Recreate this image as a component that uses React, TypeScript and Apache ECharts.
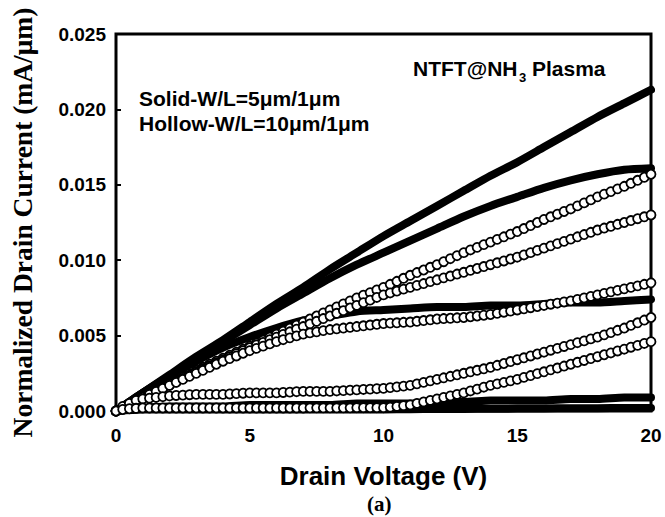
import React, { useEffect, useRef } from 'react';
import * as echarts from 'echarts';

// Drain voltage sweep (V)
const voltageFine = [
  0, 0.25, 0.5, 0.75, 1, 1.25, 1.5, 1.75, 2, 2.25, 2.5, 2.75, 3, 3.25, 3.5, 3.75,
  4, 4.25, 4.5, 4.75, 5, 5.25, 5.5, 5.75, 6, 6.25, 6.5, 6.75, 7, 7.25, 7.5, 7.75,
  8, 8.25, 8.5, 8.75, 9, 9.25, 9.5, 9.75, 10, 10.25, 10.5, 10.75, 11, 11.25, 11.5, 11.75,
  12, 12.25, 12.5, 12.75, 13, 13.25, 13.5, 13.75, 14, 14.25, 14.5, 14.75, 15, 15.25, 15.5, 15.75,
  16, 16.25, 16.5, 16.75, 17, 17.25, 17.5, 17.75, 18, 18.25, 18.5, 18.75, 19, 19.25, 19.5, 19.75, 20,
];
const voltageCoarse = [0, 1, 2, 3, 4, 5, 6, 7, 8, 9, 10, 11, 12, 13, 14, 15, 16, 17, 18, 19, 20];

// Solid: W/L = 5um/1um (mA/um)
const solid1 = [0, 0.0012, 0.0024, 0.0036, 0.0047, 0.0059, 0.0071, 0.0082, 0.0094, 0.0105, 0.0116, 0.0126, 0.0136, 0.0146, 0.0156, 0.0165, 0.0175, 0.0185, 0.0195, 0.0204, 0.0213];
const solid2 = [0, 0.0012, 0.0023, 0.0035, 0.0046, 0.0057, 0.0068, 0.0078, 0.0088, 0.0097, 0.0105, 0.0113, 0.0121, 0.0129, 0.0136, 0.0142, 0.0148, 0.0153, 0.0157, 0.016, 0.0161];
const solid3 = [0, 0.0012, 0.0023, 0.0033, 0.0042, 0.0049, 0.0055, 0.006, 0.0063, 0.0066, 0.0067, 0.0068, 0.0069, 0.0069, 0.007, 0.007, 0.0071, 0.0072, 0.0072, 0.0073, 0.0074];
const solid4 = [0, 0.0002, 0.0003, 0.0003, 0.0003, 0.0004, 0.0004, 0.0004, 0.0004, 0.0005, 0.0005, 0.0005, 0.0006, 0.0006, 0.0007, 0.0007, 0.0007, 0.0008, 0.0008, 0.0009, 0.0009];
const solid5 = [0, 0.0001, 0.0001, 0.0001, 0.0001, 0.0001, 0.0001, 0.0001, 0.0001, 0.0001, 0.0001, 0.00012, 0.00013, 0.00014, 0.00015, 0.00016, 0.00017, 0.00018, 0.00019, 0.0002, 0.0002];

// Hollow: W/L = 10um/1um (mA/um)
const hollow1 = [
  0, 0.00022, 0.00045, 0.00068, 0.0009, 0.00112, 0.00135, 0.00158,
  0.0018, 0.00202, 0.00225, 0.00248, 0.0027, 0.0029, 0.0031, 0.0033,
  0.0035, 0.0037, 0.0039, 0.0041, 0.0043, 0.0045, 0.0047, 0.0049,
  0.0051, 0.0053, 0.0055, 0.0057, 0.0059, 0.0061, 0.0063, 0.0065,
  0.0067, 0.0069, 0.0071, 0.0073, 0.0075, 0.00768, 0.00785, 0.00803,
  0.0082, 0.0084, 0.0086, 0.0088, 0.009, 0.00918, 0.00935, 0.00953,
  0.0097, 0.0099, 0.0101, 0.0103, 0.0105, 0.01068, 0.01085, 0.01103,
  0.0112, 0.01138, 0.01155, 0.01173, 0.0119, 0.0121, 0.0123, 0.0125,
  0.0127, 0.01288, 0.01305, 0.01323, 0.0134, 0.0136, 0.0138, 0.014,
  0.0142, 0.01438, 0.01455, 0.01473, 0.0149, 0.0151, 0.0153, 0.0155, 0.0157,
];
const hollow2 = [
  0, 0.00022, 0.00045, 0.00068, 0.0009, 0.0011, 0.0013, 0.0015,
  0.0017, 0.00192, 0.00215, 0.00238, 0.0026, 0.0028, 0.003, 0.0032,
  0.0034, 0.0036, 0.0038, 0.004, 0.0042, 0.00438, 0.00455, 0.00473,
  0.0049, 0.00508, 0.00525, 0.00543, 0.0056, 0.00578, 0.00595, 0.00613,
  0.0063, 0.00648, 0.00665, 0.00683, 0.007, 0.00718, 0.00735, 0.00753,
  0.0077, 0.00783, 0.00795, 0.00808, 0.0082, 0.00833, 0.00845, 0.00858,
  0.0087, 0.00883, 0.00895, 0.00908, 0.0092, 0.00933, 0.00945, 0.00958,
  0.0097, 0.00983, 0.00995, 0.01008, 0.0102, 0.01035, 0.0105, 0.01065,
  0.0108, 0.01095, 0.0111, 0.01125, 0.0114, 0.01155, 0.0117, 0.01185,
  0.012, 0.01213, 0.01225, 0.01238, 0.0125, 0.01263, 0.01275, 0.01288, 0.013,
];
const hollow3 = [
  0, 0.00022, 0.00045, 0.00068, 0.0009, 0.0011, 0.0013, 0.0015,
  0.0017, 0.0019, 0.0021, 0.0023, 0.0025, 0.0027, 0.0029, 0.0031,
  0.0033, 0.00348, 0.00365, 0.00383, 0.004, 0.00415, 0.0043, 0.00445,
  0.0046, 0.00473, 0.00485, 0.00498, 0.0051, 0.00518, 0.00525, 0.00533,
  0.0054, 0.00545, 0.0055, 0.00555, 0.0056, 0.00565, 0.0057, 0.00575,
  0.0058, 0.00583, 0.00585, 0.00588, 0.0059, 0.00595, 0.006, 0.00605,
  0.0061, 0.00613, 0.00615, 0.00618, 0.0062, 0.00625, 0.0063, 0.00635,
  0.0064, 0.00648, 0.00655, 0.00663, 0.0067, 0.00678, 0.00685, 0.00693,
  0.007, 0.00708, 0.00715, 0.00723, 0.0073, 0.0074, 0.0075, 0.0076,
  0.0077, 0.0078, 0.0079, 0.008, 0.0081, 0.0082, 0.0083, 0.0084, 0.0085,
];
const hollow4 = [
  0, 0.0003, 0.0005, 0.0007, 0.0008, 0.00085, 0.0009, 0.00095,
  0.001, 0.00103, 0.00105, 0.00108, 0.0011, 0.0011, 0.0011, 0.0011,
  0.0011, 0.00113, 0.00115, 0.00118, 0.0012, 0.0012, 0.0012, 0.0012,
  0.0012, 0.00123, 0.00125, 0.00128, 0.0013, 0.0013, 0.0013, 0.0013,
  0.0013, 0.00133, 0.00135, 0.00138, 0.0014, 0.00143, 0.00145, 0.00148,
  0.0015, 0.00155, 0.0016, 0.00165, 0.0017, 0.0018, 0.0019, 0.002,
  0.0021, 0.0022, 0.0023, 0.0024, 0.0025, 0.0026, 0.0027, 0.0028,
  0.0029, 0.00303, 0.00315, 0.00328, 0.0034, 0.00353, 0.00365, 0.00378,
  0.0039, 0.00403, 0.00415, 0.00428, 0.0044, 0.00453, 0.00465, 0.00478,
  0.0049, 0.00505, 0.0052, 0.00535, 0.0055, 0.00568, 0.00585, 0.00603, 0.0062,
];
const hollow5 = [
  0, 0.0001, 0.00015, 0.00018, 0.0002, 0.0002, 0.0002, 0.0002,
  0.0002, 0.0002, 0.0002, 0.0002, 0.0002, 0.0002, 0.0002, 0.0002,
  0.0002, 0.0002, 0.0002, 0.0002, 0.0002, 0.0002, 0.0002, 0.0002,
  0.0002, 0.0002, 0.0002, 0.0002, 0.0002, 0.00021, 0.00021, 0.00021,
  0.00021, 0.00021, 0.00021, 0.00021, 0.00022, 0.00022, 0.00022, 0.00022,
  0.00022, 0.00025, 0.0003, 0.00035, 0.0004, 0.0005, 0.0006, 0.0007,
  0.0008, 0.0009, 0.001, 0.0011, 0.0012, 0.00133, 0.00145, 0.00158,
  0.0017, 0.0018, 0.0019, 0.002, 0.0021, 0.00223, 0.00235, 0.00248,
  0.0026, 0.00273, 0.00285, 0.00298, 0.0031, 0.00323, 0.00335, 0.00348,
  0.0036, 0.00373, 0.00385, 0.00398, 0.0041, 0.00423, 0.00435, 0.00448, 0.0046,
];

const solidCurves = [solid1, solid2, solid3, solid4, solid5];
const hollowCurves = [hollow1, hollow2, hollow3, hollow4, hollow5];

const SANS = 'Liberation Sans, Arial, sans-serif';
const SERIF = 'Liberation Serif, Times New Roman, serif';

export default function App() {
  const ref = useRef<HTMLDivElement>(null);
  useEffect(() => {
    if (!ref.current) return;
    const chart = echarts.init(ref.current, undefined, { renderer: 'svg' });
    const solidSeries = solidCurves.map((ys, i) => ({
      type: 'line',
      name: 'solid' + (i + 1),
      data: voltageCoarse.map((v, j) => [v, ys[j]]),
      smooth: 0.25,
      showSymbol: false,
      lineStyle: { color: '#000', width: 8, cap: 'round', join: 'round' },
      z: 2,
      clip: false,
    }));
    const hollowSeries = hollowCurves.map((ys, i) => ({
      type: 'line',
      name: 'hollow' + (i + 1),
      data: voltageFine.map((v, j) => [v, ys[j]]),
      showSymbol: true,
      showAllSymbol: true,
      symbol: 'circle',
      symbolSize: 9,
      lineStyle: { width: 0, opacity: 0 },
      itemStyle: { color: '#fff', borderColor: '#000', borderWidth: 1.8 },
      z: 3,
      clip: false,
    }));
    chart.setOption({
      animation: false,
      grid: {
        left: 113,
        right: 14,
        top: 34,
        bottom: 106,
        show: true,
        borderColor: '#000',
        borderWidth: 3,
        backgroundColor: 'transparent',
      },
      xAxis: {
        type: 'value',
        min: 0,
        max: 20,
        interval: 5,
        axisLine: { show: false },
        axisTick: { show: true, inside: true, length: 5, lineStyle: { color: '#000', width: 2 } },
        splitLine: { show: false },
        axisLabel: { color: '#000', fontFamily: SANS, fontWeight: 'bold', fontSize: 19, margin: 15 },
        name: 'Drain Voltage (V)',
        nameLocation: 'middle',
        nameGap: 52,
        nameTextStyle: { color: '#000', fontFamily: SANS, fontWeight: 'bold', fontSize: 26 },
      },
      yAxis: {
        type: 'value',
        min: 0,
        max: 0.025,
        interval: 0.005,
        axisLine: { show: false },
        axisTick: { show: true, inside: true, length: 5, lineStyle: { color: '#000', width: 2 } },
        splitLine: { show: false },
        axisLabel: {
          color: '#000',
          fontFamily: SANS,
          fontWeight: 'bold',
          fontSize: 19,
          margin: 10,
          formatter: (v: number) => v.toFixed(3),
        },
        name: 'Normalized Drain Current (mA/\u03bcm)',
        nameLocation: 'middle',
        nameGap: 80,
        nameTextStyle: { color: '#000', fontFamily: SERIF, fontWeight: 'bold', fontSize: 27.5 },
      },
      series: [...solidSeries, ...hollowSeries],
      graphic: [
        {
          type: 'text',
          left: 413,
          top: 58,
          style: { text: 'NTFT@NH', fill: '#000', font: `bold 21px ${SANS}` },
        },
        {
          type: 'text',
          left: 519,
          top: 71,
          style: { text: '3', fill: '#000', font: `bold 13px ${SANS}` },
        },
        {
          type: 'text',
          left: 532,
          top: 58,
          style: { text: 'Plasma', fill: '#000', font: `bold 21px ${SANS}` },
        },
        {
          type: 'text',
          left: 139,
          top: 88,
          style: { text: 'Solid-W/L=5\u03bcm/1\u03bcm', fill: '#000', font: `bold 21px ${SANS}` },
        },
        {
          type: 'text',
          left: 139,
          top: 113,
          style: { text: 'Hollow-W/L=10\u03bcm/1\u03bcm', fill: '#000', font: `bold 21px ${SANS}` },
        },
        {
          type: 'text',
          left: 367,
          top: 493,
          style: { text: '(a)', fill: '#000', font: `bold 21px ${SERIF}` },
        },
      ],
    });
    return () => chart.dispose();
  }, []);
  return (
    <div
      ref={ref}
      style={{ position: 'fixed', left: 0, top: 0, width: 665, height: 517, background: '#fff' }}
    />
  );
}
